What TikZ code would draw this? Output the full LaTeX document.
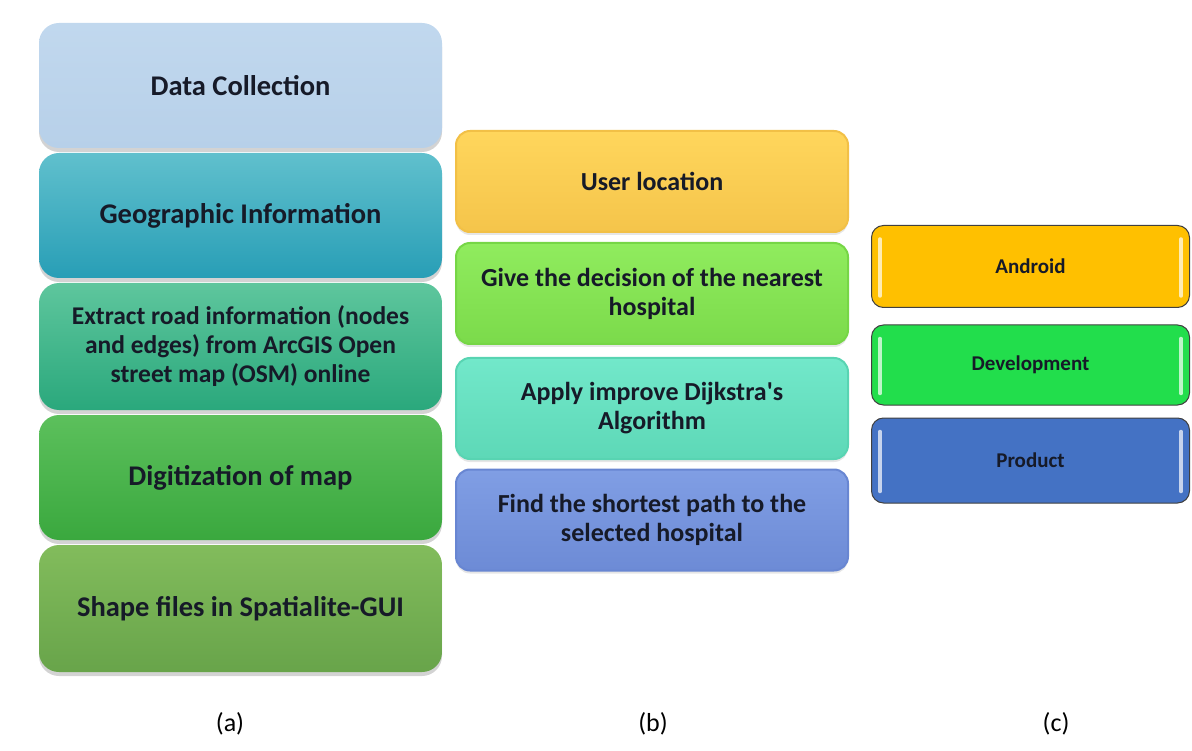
\documentclass[tikz,border=0pt]{standalone}
\usepackage{fontspec}
\setmainfont{Carlito}
\usetikzlibrary{shadows}

% colori
\definecolor{celeste}{RGB}{193,216,238}
\definecolor{celesteB}{RGB}{183,208,233}
\definecolor{tealA}{RGB}{96,192,205}
\definecolor{tealB}{RGB}{40,158,182}
\definecolor{acquaA}{RGB}{94,198,157}
\definecolor{acquaB}{RGB}{42,168,124}
\definecolor{verdeA}{RGB}{92,192,92}
\definecolor{verdeB}{RGB}{58,168,62}
\definecolor{olivaA}{RGB}{130,188,92}
\definecolor{olivaB}{RGB}{104,164,74}
\definecolor{giallo}{RGB}{255,214,92}
\definecolor{gialloB}{RGB}{242,192,70}
\definecolor{lime}{RGB}{144,236,94}
\definecolor{limeB}{RGB}{118,214,70}
\definecolor{menta}{RGB}{114,232,202}
\definecolor{mentaB}{RGB}{88,212,178}
\definecolor{pervinca}{RGB}{128,158,228}
\definecolor{pervincaB}{RGB}{104,134,210}
\definecolor{arancio}{RGB}{255,192,0}
\definecolor{prato}{RGB}{34,222,76}
\definecolor{blu}{RGB}{68,114,196}
\definecolor{inchiostro}{RGB}{22,26,40}

\tikzset{
  blocco/.style={rounded corners=20pt, minimum width=403pt, minimum height=125pt,
    align=center, text=inchiostro, font=\bfseries\fontsize{28.5}{33}\selectfont,
    drop shadow={shadow xshift=0pt, shadow yshift=-4pt, opacity=0.35}},
  passo/.style={rounded corners=14pt, minimum width=392pt, minimum height=101pt,
    align=center, text=inchiostro, line width=2pt, font=\bfseries\fontsize{26}{29}\selectfont,
    drop shadow={shadow xshift=0pt, shadow yshift=-3pt, opacity=0.2}},
  fase/.style={rounded corners=12pt, draw=black!75, line width=1pt, minimum width=318pt,
    minimum height=82pt, text=inchiostro, font=\bfseries\fontsize{21}{24}\selectfont},
  lucido/.style={white, line width=3.5pt, line cap=round, opacity=0.7},
  didascalia/.style={font=\fontsize{26}{30}\selectfont}
}

\begin{document}
\begin{tikzpicture}[x=1pt, y=-1pt]
  \useasboundingbox (0,0) rectangle (1192,751);

  % Colonna (a)
  \node[blocco, top color=celeste, bottom color=celesteB] (dati) at (240.5,85.5) {Data Collection};
  \node[blocco, top color=tealA, bottom color=tealB] (geo) at (240.5,215.5) {Geographic Information};
  \node[blocco, top color=acquaA, bottom color=acquaB, minimum height=127pt,
        font=\bfseries\fontsize{25.5}{29}\selectfont] (strade) at (240.5,346.5)
        {Extract road information (nodes\\ and edges) from ArcGIS Open\\ street map (OSM) online};
  \node[blocco, top color=verdeA, bottom color=verdeB] (digit) at (240.5,477.5) {Digitization of map};
  \node[blocco, top color=olivaA, bottom color=olivaB, minimum height=127pt] (shape) at (240.5,608.5) {Shape files in Spatialite-GUI};

  % Colonna (b)
  \node[passo, draw=gialloB, top color=giallo, bottom color=gialloB!80!giallo] (utente) at (652,181.5) {User location};
  \node[passo, draw=limeB, top color=lime, bottom color=limeB!80!lime] (decisione) at (652,293.5)
        {Give the decision of the nearest\\ hospital};
  \node[passo, draw=mentaB, top color=menta, bottom color=mentaB!80!menta] (dijkstra) at (652,408.5)
        {Apply improve Dijkstra\textquotesingle s\\ Algorithm};
  \node[passo, draw=pervincaB, top color=pervinca, bottom color=pervincaB!80!pervinca] (percorso) at (652,520)
        {Find the shortest path to the\\ selected hospital};

  % Colonna (c)
  \node[fase, fill=arancio] (android) at (1030.5,266.5) {Android};
  \node[fase, fill=prato, minimum height=80pt] (sviluppo) at (1030.5,365) {Development};
  \node[fase, fill=blu, minimum height=85pt] (prodotto) at (1030.5,460.5) {Product};
  \foreach \n in {android,sviluppo,prodotto} {
    \draw[lucido] ([shift={(9,14)}]\n.north west) -- ([shift={(9,-12)}]\n.south west);
    \draw[lucido] ([shift={(-9,14)}]\n.north east) -- ([shift={(-9,-12)}]\n.south east);
  }

  % Didascalie
  \node[didascalia] (capa) at (230,724) {(a)};
  \node[didascalia] (capb) at (653,724) {(b)};
  \node[didascalia] (capc) at (1056,724) {(c)};
\end{tikzpicture}
\end{document}
